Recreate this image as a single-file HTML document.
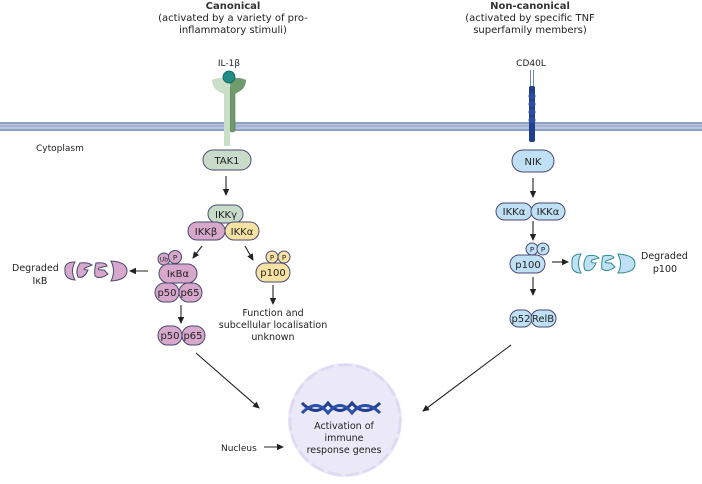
<!DOCTYPE html>
<html><head><meta charset="utf-8"><style>
html,body{margin:0;padding:0;background:#fff;}
svg{display:block;font-family:"DejaVu Sans","Liberation Sans",sans-serif;}
</style></head><body>
<svg width="702" height="484" viewBox="0 0 702 484" xmlns="http://www.w3.org/2000/svg">
<defs>
<marker id="ah" markerWidth="8" markerHeight="8" refX="6" refY="4" orient="auto" markerUnits="userSpaceOnUse">
<path d="M0,0.8 L7,4 L0,7.2 Z" fill="#222"/></marker>
</defs>
<g fill="#222" font-size="10" text-anchor="middle">
<text x="233" y="9" font-weight="bold" fill="#333">Canonical</text>
<text x="233" y="21">(activated by a variety of pro-</text>
<text x="233" y="33">inflammatory stimuli)</text>
<text x="530" y="9" font-weight="bold" fill="#333">Non-canonical</text>
<text x="530" y="21">(activated by specific TNF</text>
<text x="530" y="33">superfamily members)</text>
<text x="229" y="66" font-size="9">IL-1β</text>
<text x="531" y="66" font-size="9">CD40L</text>
</g>
<rect x="0" y="122" width="702" height="9" fill="#b9c5de"/>
<rect x="0" y="122" width="702" height="2" fill="#8d9fc4"/>
<rect x="0" y="129" width="702" height="2" fill="#8d9fc4"/>
<rect x="0" y="125.5" width="702" height="1" fill="#8d9fc4"/>
<text x="36" y="151" font-size="9" fill="#222">Cytoplasm</text>
<rect x="230" y="86" width="5" height="46" rx="2" fill="#6e9a6c" stroke="#4e7a4e" stroke-width="0.6"/>
<path d="M228,80 Q238,76 246,80 Q246,90 234,94 Z" fill="#6e9a6c"/>
<path d="M230,80 Q220,76 212,80 Q212,90 224,94 Z" fill="#c9dfc7"/>
<rect x="224" y="84" width="6" height="62" fill="#c9dfc7"/>
<circle cx="229" cy="77" r="6" fill="#1f8c86" stroke="#0e5e5a" stroke-width="0.8"/>
<rect x="530" y="70" width="1" height="20" fill="#6b88b8"/>
<rect x="533" y="70" width="1" height="20" fill="#6b88b8"/>
<rect x="529" y="86" width="6" height="56" rx="2" fill="#1f3e8c"/>
<g fill="#2a4d9c"><circle cx="532" cy="96" r="3.5"/><circle cx="532" cy="104" r="3.5"/><circle cx="532" cy="112" r="3.5"/><circle cx="532" cy="120" r="3.5"/></g>
<g stroke="#4a4a70" stroke-width="1" font-size="10" text-anchor="middle">
<rect x="203" y="150" width="48" height="20" rx="10" fill="#c9dbc9"/>
<text x="227" y="164" stroke="none" fill="#222">TAK1</text>
<rect x="208" y="205" width="35" height="18" rx="9" fill="#c9dbc9"/>
<text x="226" y="218" stroke="none" fill="#222">IKKγ</text>
<rect x="188" y="222" width="37" height="18" rx="9" fill="#d7a8cb"/>
<text x="206" y="235" stroke="none" fill="#222">IKKβ</text>
<rect x="225" y="222" width="34" height="18" rx="9" fill="#f6e3a3"/>
<text x="242" y="235" stroke="none" fill="#222">IKKα</text>
<circle cx="164" cy="259" r="6" fill="#d7a8cb"/>
<text x="164" y="261.5" font-size="6" stroke="none" fill="#222">Ub</text>
<circle cx="175" cy="257" r="6.5" fill="#d7a8cb"/>
<text x="175" y="260" font-size="7" stroke="none" fill="#222">P</text>
<rect x="159" y="264" width="38" height="19" rx="9.5" fill="#d7a8cb"/>
<text x="178" y="277" stroke="none" fill="#222">IκBα</text>
<rect x="155" y="283" width="24" height="19" rx="9.5" fill="#d7a8cb"/>
<text x="167" y="296" stroke="none" fill="#222">p50</text>
<rect x="179" y="283" width="23" height="19" rx="9.5" fill="#d7a8cb"/>
<text x="190" y="296" stroke="none" fill="#222">p65</text>
<rect x="158" y="326" width="24" height="19" rx="9.5" fill="#d7a8cb"/>
<text x="170" y="339" stroke="none" fill="#222">p50</text>
<rect x="182" y="326" width="23" height="19" rx="9.5" fill="#d7a8cb"/>
<text x="193" y="339" stroke="none" fill="#222">p65</text>
<circle cx="272" cy="257" r="6" fill="#f6e3a3"/>
<circle cx="284" cy="257" r="6" fill="#f6e3a3"/>
<text x="272" y="260" font-size="7" stroke="none" fill="#222">P</text>
<text x="284" y="260" font-size="7" stroke="none" fill="#222">P</text>
<rect x="256" y="263" width="34" height="19" rx="9.5" fill="#f6e3a3"/>
<text x="273" y="276" stroke="none" fill="#222">p100</text>
<g fill="#d7a8cb">
<path d="M75,262 Q64,262 65,270 Q64,279 75,280 Q70,271 75,262 Z"/>
<path d="M80,263 Q88,262 92,265 L85,268 Q82,270 88,270 Q84,279 78,277 Q75,270 80,263 Z"/>
<path d="M96,263 Q106,262 107,266 L99,268 Q96,270 104,270 L108,274 Q100,280 95,276 Q94,270 96,263 Z"/>
<path d="M111,261 Q127,262 127,271 Q127,280 111,281 Q116,271 111,261 Z"/>
</g>
<rect x="512" y="150" width="42" height="22" rx="11" fill="#bfe0f5"/>
<text x="533" y="165" stroke="none" fill="#222">NIK</text>
<rect x="496" y="203" width="36" height="17" rx="8.5" fill="#bfe0f5"/>
<text x="514" y="215" stroke="none" fill="#222">IKKα</text>
<rect x="531" y="203" width="34" height="17" rx="8.5" fill="#bfe0f5"/>
<text x="548" y="215" stroke="none" fill="#222">IKKα</text>
<circle cx="532" cy="249" r="6" fill="#bfe0f5"/>
<circle cx="543" cy="249" r="6" fill="#bfe0f5"/>
<text x="532" y="252" font-size="7" stroke="none" fill="#222">P</text>
<text x="543" y="252" font-size="7" stroke="none" fill="#222">P</text>
<rect x="510" y="255" width="35" height="18" rx="9" fill="#bfe0f5"/>
<text x="528" y="268" stroke="none" fill="#222">p100</text>
<rect x="510" y="310" width="22" height="17" rx="8.5" fill="#bfe0f5"/>
<text x="521" y="322" stroke="none" fill="#222">p52</text>
<rect x="531" y="310" width="25" height="17" rx="8.5" fill="#bfe0f5"/>
<text x="543" y="322" stroke="none" fill="#222">RelB</text>
</g>
<g fill="#bfe0f5" stroke="#2f8a8f" stroke-width="1">
<path d="M581,254 Q571,254 572,263 Q571,273 581,273 Q576,263 581,254 Z"/>
<path d="M587,256 Q595,254 599,258 L592,260 Q589,263 596,263 Q592,273 585,270 Q582,263 587,256 Z"/>
<path d="M603,256 Q613,254 614,258 L606,261 Q603,263 611,263 L615,267 Q607,273 602,269 Q601,263 603,256 Z"/>
<path d="M618,254 Q635,255 635,264 Q635,273 618,273 Q623,264 618,254 Z"/>
</g>
<g font-size="9.5" fill="#222">
<text x="12" y="271">Degraded</text><text x="40" y="284" text-anchor="middle">IκB</text>
<text x="641" y="259">Degraded</text><text x="665" y="272" text-anchor="middle">p100</text>
<g text-anchor="middle"><text x="273" y="316">Function and</text><text x="273" y="328">subcellular localisation</text><text x="273" y="340">unknown</text></g>
</g>
<g stroke="#222" stroke-width="1.1" marker-end="url(#ah)">
<line x1="226" y1="176" x2="226" y2="195"/>
<line x1="202" y1="246" x2="193" y2="258"/>
<line x1="245" y1="246" x2="253" y2="260"/>
<line x1="148" y1="271" x2="130" y2="271"/>
<line x1="181" y1="305" x2="181" y2="323"/>
<line x1="273" y1="285" x2="273" y2="304"/>
<line x1="196" y1="353" x2="259" y2="408"/>
<line x1="533" y1="178" x2="533" y2="197"/>
<line x1="533" y1="221" x2="533" y2="240"/>
<line x1="552" y1="262" x2="568" y2="262"/>
<line x1="533" y1="277" x2="533" y2="295"/>
<line x1="511" y1="345" x2="423" y2="411"/>
<line x1="264" y1="447" x2="283" y2="447"/>
</g>
<circle cx="345" cy="420" r="57" fill="#ebe9f8"/>
<circle cx="345" cy="420" r="55" fill="none" stroke="#ddd9f2" stroke-width="2.5" stroke-dasharray="14 4"/>
<path d="M302,403 C312,413 320,413 328,403 C336,413 344,413 352,403 C360,413 370,413 380,403" fill="none" stroke="#1f3e8c" stroke-width="3"/>
<path d="M302,413 C312,403 320,403 328,413 C336,403 344,403 352,413 C360,403 370,403 380,413" fill="none" stroke="#2a4fa8" stroke-width="3"/>
<g font-size="9.5" fill="#222" text-anchor="middle">
<text x="344" y="429">Activation of</text><text x="344" y="441">immune</text><text x="344" y="453">response genes</text>
</g>
<text x="221" y="451" font-size="9" fill="#222">Nucleus</text>
</svg>
</body></html>
